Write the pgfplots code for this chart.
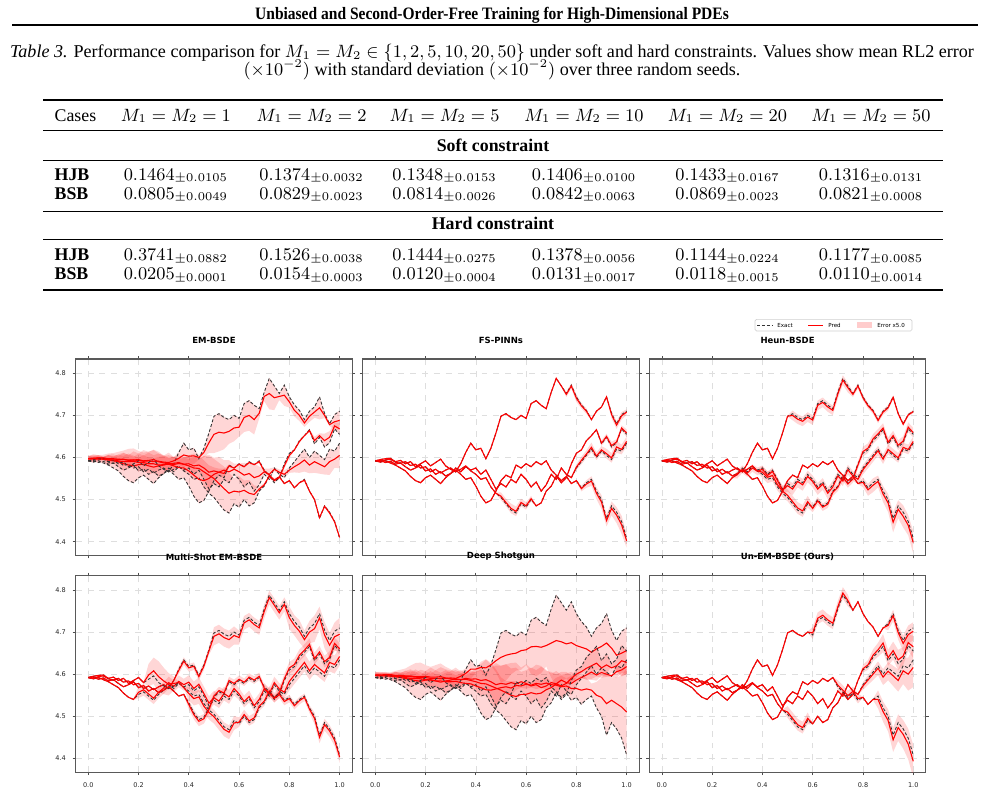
\documentclass[border=0pt]{standalone}
\usepackage{fontspec}
\setmainfont{Liberation Serif}
\newfontfamily\plotfont{DejaVu Sans}
\usepackage{graphicx}
\usepackage{pgfplots}
\pgfplotsset{compat=1.18}
\usepackage{pgfplotstable}
\usepgfplotslibrary{fillbetween}
\newlength{\px}\setlength{\px}{0.505pt}

\pgfplotstableread{
t eA eB eC eD mA mB mC mD sA sB sC sD fA fB fC fD hA hB hC hD uA uB uC uD nA nB nC nD
0 4.592 4.592 4.592 4.592 4.597 4.597 4.597 4.597 4.598 4.597 4.598 4.597 0 0 0 0 0 0 0 0 0 0 0 0 0 0 0 0
0.02 4.590 4.589 4.595 4.593 4.598 4.597 4.598 4.597 4.597 4.596 4.598 4.597 0 0 0 0 0 0 0 0 0 0 0 0 0 0 0 0
0.04 4.594 4.592 4.597 4.588 4.599 4.598 4.599 4.596 4.598 4.597 4.599 4.596 0 0 0 0 0 0 0 0 0 0 0 0 0 0 0 0
0.06 4.596 4.587 4.598 4.591 4.598 4.596 4.599 4.596 4.598 4.595 4.599 4.596 0 0 0 0 0 0 0 0 0 0 0 0 0 0 0 0
0.08 4.589 4.582 4.590 4.584 4.597 4.595 4.597 4.594 4.596 4.594 4.597 4.594 0 0 0 0 0 0 0 0 0 0 0 0 0 0 0 0
0.10 4.586 4.575 4.593 4.587 4.596 4.592 4.597 4.594 4.595 4.592 4.597 4.594 0 0 0 0 0 0 0 0 0 0 0 0 0 0 0 0
0.12 4.590 4.568 4.585 4.578 4.596 4.590 4.595 4.592 4.595 4.590 4.596 4.592 0 0 0 0 0 0 0 0 0 0 0 0 0 0 0 0
0.14 4.581 4.555 4.590 4.570 4.595 4.585 4.596 4.590 4.594 4.587 4.596 4.590 0 0 0 0 0 0 0 0 0 0 0 0 0 0 0 0
0.16 4.584 4.545 4.578 4.575 4.594 4.582 4.593 4.590 4.593 4.585 4.594 4.590 0 0 0 0 0 0 0 0 0 0 0 0 0 0 0 0
0.18 4.575 4.540 4.585 4.582 4.594 4.580 4.594 4.591 4.592 4.583 4.594 4.589 0 0 0 0 0 0 0 0 0 0 0 0 0 0 0 0
0.20 4.578 4.552 4.592 4.568 4.593 4.583 4.595 4.588 4.592 4.586 4.595 4.587 0 0 0 0 0 0 0 0 0 5 0 0 0 0 0 0
0.22 4.566 4.558 4.580 4.573 4.591 4.584 4.592 4.588 4.590 4.587 4.593 4.586 0 0 0 0 0 0 0 0 0 5 0 0 0 0 0 0
0.24 4.572 4.548 4.588 4.560 4.592 4.580 4.593 4.585 4.590 4.584 4.593 4.584 0 0 0 0 0 0 0 0 0 5 10 0 0 0 0 0
0.26 4.563 4.538 4.596 4.566 4.590 4.577 4.595 4.585 4.589 4.581 4.594 4.584 0 0 0 0 0 0 0 0 0 5 12 0 0 0 0 0
0.28 4.570 4.552 4.580 4.556 4.591 4.580 4.590 4.582 4.590 4.584 4.591 4.582 0 0 0 0 0 0 0 0 0 5 14 0 0 0 0 0
0.30 4.575 4.562 4.572 4.562 4.589 4.582 4.587 4.583 4.591 4.586 4.589 4.582 0 0 0 0 0 -3 0 0 0 5 12 0 0 0 0 0
0.32 4.566 4.575 4.566 4.570 4.588 4.586 4.585 4.584 4.590 4.589 4.587 4.583 0 0 0 0 0 -3 0 0 0 5 10 0 0 0 0 0
0.34 4.585 4.566 4.572 4.560 4.592 4.583 4.586 4.580 4.595 4.587 4.587 4.580 0 0 0 0 0 -3 0 0 0 5 6 0 0 0 0 0
0.36 4.612 4.578 4.580 4.548 4.598 4.586 4.588 4.576 4.602 4.590 4.588 4.578 0 0 0 0 0 -3 0 0 -3 5 0 0 0 0 0 0
0.38 4.634 4.570 4.568 4.552 4.606 4.584 4.584 4.575 4.612 4.588 4.585 4.577 0 0 0 0 0 -3 0 0 -3 5 0 0 0 0 0 0
0.40 4.618 4.575 4.560 4.532 4.603 4.585 4.580 4.568 4.612 4.589 4.582 4.572 0 0 0 0 0 -3 5 0 -3 6 -6 -4 0 0 0 0
0.42 4.622 4.560 4.548 4.508 4.604 4.580 4.575 4.558 4.616 4.585 4.578 4.568 0 0 0 0 0 -3 5 0 -3 6 -6 -4 0 0 0 0
0.44 4.597 4.570 4.552 4.492 4.600 4.582 4.574 4.548 4.615 4.587 4.577 4.563 0 0 0 0 0 -3 5 0 -3 6 -6 -4 0 0 0 0
0.46 4.622 4.548 4.530 4.498 4.612 4.575 4.566 4.545 4.622 4.582 4.572 4.562 0 0 0 0 0 -3 5 0 -3 6 -6 -4 0 0 0 0
0.48 4.658 4.525 4.515 4.520 4.635 4.565 4.558 4.550 4.632 4.575 4.567 4.565 0 0 0 0 0 -3 5 0 -3 6 -6 -4 0 0 0 0
0.50 4.698 4.538 4.505 4.545 4.655 4.568 4.550 4.560 4.640 4.578 4.562 4.568 0 0 3 0 0 -5 5 0 -8 6 -6 3 0 0 5 0
0.52 4.704 4.530 4.490 4.558 4.660 4.565 4.538 4.565 4.645 4.576 4.556 4.570 0 0 3 0 -4 -5 5 0 -8 6 -6 3 0 0 5 0
0.54 4.695 4.548 4.475 4.552 4.658 4.570 4.526 4.562 4.648 4.580 4.550 4.567 0 0 4 0 -4 -5 5 0 -8 6 -6 3 0 0 5 0
0.56 4.690 4.540 4.468 4.582 4.662 4.566 4.515 4.580 4.650 4.577 4.547 4.573 0 0 4 0 -4 -5 5 0 -8 6 -6 3 0 0 5 0
0.58 4.700 4.560 4.490 4.575 4.670 4.572 4.520 4.575 4.656 4.582 4.552 4.572 0 0 3 0 -4 -5 5 0 -8 6 -6 3 0 0 5 0
0.60 4.693 4.548 4.482 4.585 4.672 4.566 4.518 4.584 4.658 4.578 4.552 4.576 0 0 3 0 -4 -5 -3 0 -6 5 4 3 5 0 0 0
0.62 4.728 4.530 4.500 4.578 4.695 4.558 4.522 4.578 4.665 4.572 4.556 4.574 0 0 2 0 -4 -5 -3 0 -6 5 4 3 5 0 0 0
0.64 4.735 4.542 4.485 4.590 4.700 4.562 4.515 4.588 4.666 4.575 4.553 4.578 0 0 0 0 -4 -5 -3 0 -6 5 4 3 5 0 0 0
0.66 4.724 4.520 4.492 4.583 4.690 4.552 4.512 4.583 4.664 4.568 4.555 4.576 0 0 0 0 -4 -5 -3 0 -6 5 4 3 5 0 0 0
0.68 4.716 4.535 4.520 4.592 4.705 4.556 4.525 4.590 4.668 4.572 4.563 4.579 0 0 0 0 -4 -5 -3 0 -6 5 4 3 5 0 0 0
0.70 4.755 4.560 4.532 4.570 4.745 4.566 4.535 4.568 4.674 4.580 4.568 4.575 0 0 0 0 -4 -4 -3 0 -6 5 4 -3 5 0 0 4
0.72 4.788 4.548 4.556 4.558 4.752 4.560 4.556 4.558 4.680 4.577 4.577 4.574 0 0 0 0 -4 -4 -3 0 -6 5 4 -3 5 0 0 4
0.74 4.770 4.575 4.540 4.545 4.742 4.572 4.545 4.546 4.677 4.586 4.572 4.570 0 0 0 0 -4 -4 -3 0 -6 5 4 -3 5 0 0 4
0.76 4.752 4.560 4.552 4.555 4.745 4.565 4.552 4.554 4.672 4.580 4.578 4.572 -2 0 0 0 -2 -4 -3 0 -6 5 4 -3 0 0 0 4
0.78 4.772 4.552 4.585 4.538 4.748 4.560 4.580 4.538 4.675 4.578 4.590 4.566 -2 0 0 0 -2 -4 -3 0 -6 5 4 -3 0 0 0 4
0.80 4.744 4.575 4.610 4.545 4.732 4.570 4.605 4.545 4.668 4.586 4.600 4.566 -3 2 0 0 -2 -4 4 -4 -10 8 5 -3 0 -3 3 0
0.82 4.725 4.590 4.618 4.528 4.712 4.578 4.618 4.528 4.664 4.592 4.606 4.562 -2 3 0 -2 -2 -4 4 -5 -9 8 5 -3 0 -4 4 0
0.84 4.712 4.605 4.640 4.540 4.700 4.585 4.638 4.540 4.660 4.598 4.614 4.565 -2 3 0 -3 -2 -4 4 -6 -10 8 5 -3 0 -5 5 0
0.86 4.690 4.620 4.652 4.548 4.682 4.594 4.652 4.546 4.652 4.605 4.620 4.562 0 4 0 -4 -2 -4 4 -5 -8 8 5 -3 0 -6 6 -8
0.88 4.710 4.600 4.666 4.520 4.698 4.582 4.664 4.520 4.660 4.598 4.626 4.550 0 3 0 -5 -2 -4 4 -7 -10 8 5 -3 0 -7 8 -9
0.90 4.720 4.615 4.632 4.500 4.708 4.590 4.640 4.500 4.666 4.604 4.615 4.545 0 3 2 -6 -2 4 4 -8 -12 8 5 -5 -4 -8 7 -10
0.92 4.744 4.605 4.648 4.455 4.718 4.584 4.652 4.457 4.674 4.600 4.622 4.530 0 4 2 -5 -1 4 4 -9 -10 8 5 -5 -5 -9 8 -11
0.94 4.705 4.595 4.625 4.485 4.700 4.578 4.640 4.484 4.662 4.596 4.615 4.538 -3 4 3 -6 -1 4 4 -8 -12 8 5 -5 -6 -10 9 -12
0.96 4.680 4.620 4.635 4.470 4.678 4.590 4.648 4.468 4.645 4.606 4.620 4.530 -3 5 2 -7 -1 4 4 -10 -11 8 5 -5 -7 -12 8 -13
0.98 4.702 4.615 4.668 4.448 4.685 4.596 4.675 4.447 4.650 4.610 4.632 4.522 -3 4 2 -8 -1 4 4 -9 -13 8 5 -5 -8 -15 7 -14
1.00 4.710 4.634 4.655 4.408 4.688 4.605 4.668 4.410 4.656 4.618 4.628 4.510 -2 4 3 -6 -1 4 4 -10 -15 8 5 -5 -8 -18 10 -15
}\paths

\tikzset{
  exactln/.style={draw=black!80, line width=0.45pt, dash pattern=on 1.5pt off 1pt},
  predln/.style={draw=red, color=red, line width=0.55pt},
}
\pgfplotsset{
  panel/.style={
    width=276.5\px, height=196.5\px, scale only axis,
    xmin=-0.05, xmax=1.05, ymin=4.367, ymax=4.834,
    xtick={0,0.2,0.4,0.6,0.8,1.0}, ytick={4.4,4.5,4.6,4.7,4.8},
    tick align=outside, major tick length=1.5pt,
    tick style={draw=black!70, line width=0.35pt},
    axis line style={draw=black!65, line width=0.55pt},
    grid=major, grid style={dashed, draw=black!13, line width=0.3pt},
    tick label style={font=\plotfont\fontsize{3.3}{3.9}\selectfont, text=black!85},
    xticklabel style={/pgf/number format/fixed, /pgf/number format/fixed zerofill, /pgf/number format/precision=1},
    yticklabel style={/pgf/number format/fixed, /pgf/number format/fixed zerofill, /pgf/number format/precision=1},
    /pgf/number format/assume math mode=true,
    title style={font=\plotfont\bfseries\fontsize{4.3}{5}\selectfont, at={(0.5,1)}, anchor=south, inner sep=0pt, yshift=1.5pt},
  },
}

% #1 id, #2 exact, #3 prediction, #4 band factor on |pred - exact|
\newcommand{\trio}[4]{%
  \addplot[name path=U#1, draw=none, forget plot] table[x=t, y expr={#3+#4*abs(#3-(#2))+0.0015}] {\paths};
  \addplot[name path=L#1, draw=none, forget plot] table[x=t, y expr={#3-#4*abs(#3-(#2))-0.0015}] {\paths};
  \addplot[fill=red, fill opacity=0.16, draw=none, forget plot] fill between[of=U#1 and L#1];
  \addplot[exactln, forget plot] table[x=t, y expr={#2}] {\paths};
  \addplot[predln, forget plot] table[x=t, y expr={#3}] {\paths};
}
\newcommand{\bad}[2]{\trio{#1}{\thisrow{e#1}}{\thisrow{#2#1}}{1}}
\newcommand{\good}[2]{\trio{#1}{\thisrow{e#1}}{(\thisrow{e#1}+0.001*\thisrow{#2#1})}{2.5}}

\newcommand{\tabfont}{\fontsize{9}{11}\selectfont}
\newcommand{\capfont}{\fontsize{9.13}{11}\selectfont}
\newcommand{\cell}[4]{\node[anchor=base, font=\tabfont, inner sep=0pt] at (#1\px,-#2\px) {$#3_{\pm#4}$};}

\begin{document}
\begin{tikzpicture}
\path (0,0) rectangle (985\px,-804\px);

% running header
\node[anchor=base, font=\fontsize{8.8}{11}\selectfont\bfseries, inner sep=0pt] at (492\px,-19.5\px) {\scalebox{0.89}[1]{Unbiased and Second-Order-Free Training for High-Dimensional PDEs}};
\draw[line width=1pt] (12\px,-25.3\px) -- (978\px,-25.3\px);

% caption
\node[anchor=base, font=\capfont, inner sep=0pt] at (492\px,-57.5\px) {\textit{Table 3.} Performance comparison for $M_1 = M_2 \in \{1, 2, 5, 10, 20, 50\}$ under soft and hard constraints. Values show mean RL2 error};
\node[anchor=base, font=\capfont, inner sep=0pt] at (492\px,-75.5\px) {$(\times 10^{-2})$ with standard deviation $(\times 10^{-2})$ over three random seeds.};

% table rules
\draw[line width=0.9pt] (43\px,-100\px) -- (943\px,-100\px);
\draw[line width=0.5pt] (43\px,-130\px) -- (943\px,-130\px);
\draw[line width=0.5pt] (43\px,-160\px) -- (943\px,-160\px);
\draw[line width=0.5pt] (43\px,-211\px) -- (943\px,-211\px);
\draw[line width=0.5pt] (43\px,-239.3\px) -- (943\px,-239.3\px);
\draw[line width=0.9pt] (43\px,-290\px) -- (943\px,-290\px);

% table header
\node[anchor=base west, font=\tabfont, inner sep=0pt] at (54.3\px,-121\px) {Cases};
\node[anchor=base, font=\tabfont, inner sep=0pt] at (175.9\px,-121\px) {$M_1 = M_2 = 1$};
\node[anchor=base, font=\tabfont, inner sep=0pt] at (311.5\px,-121\px) {$M_1 = M_2 = 2$};
\node[anchor=base, font=\tabfont, inner sep=0pt] at (444.5\px,-121\px) {$M_1 = M_2 = 5$};
\node[anchor=base, font=\tabfont, inner sep=0pt] at (584\px,-121\px) {$M_1 = M_2 = 10$};
\node[anchor=base, font=\tabfont, inner sep=0pt] at (727.5\px,-121\px) {$M_1 = M_2 = 20$};
\node[anchor=base, font=\tabfont, inner sep=0pt] at (871\px,-121\px) {$M_1 = M_2 = 50$};
\node[anchor=base, font=\tabfont\bfseries, inner sep=0pt] at (493\px,-151.5\px) {Soft constraint};
\node[anchor=base, font=\tabfont\bfseries, inner sep=0pt] at (493\px,-229\px) {Hard constraint};
\node[anchor=base west, font=\tabfont\bfseries, inner sep=0pt] at (54.3\px,-180\px) {HJB};
\node[anchor=base west, font=\tabfont\bfseries, inner sep=0pt] at (54.3\px,-199\px) {BSB};
\node[anchor=base west, font=\tabfont\bfseries, inner sep=0pt] at (54.3\px,-260.5\px) {HJB};
\node[anchor=base west, font=\tabfont\bfseries, inner sep=0pt] at (54.3\px,-279.5\px) {BSB};

\cell{175.9}{180}{0.1464}{0.0105}
\cell{311.5}{180}{0.1374}{0.0032}
\cell{444.5}{180}{0.1348}{0.0153}
\cell{584}{180}{0.1406}{0.0100}
\cell{727.5}{180}{0.1433}{0.0167}
\cell{871}{180}{0.1316}{0.0131}
\cell{175.9}{199}{0.0805}{0.0049}
\cell{311.5}{199}{0.0829}{0.0023}
\cell{444.5}{199}{0.0814}{0.0026}
\cell{584}{199}{0.0842}{0.0063}
\cell{727.5}{199}{0.0869}{0.0023}
\cell{871}{199}{0.0821}{0.0008}
\cell{175.9}{260.5}{0.3741}{0.0882}
\cell{311.5}{260.5}{0.1526}{0.0038}
\cell{444.5}{260.5}{0.1444}{0.0275}
\cell{584}{260.5}{0.1378}{0.0056}
\cell{727.5}{260.5}{0.1144}{0.0224}
\cell{871}{260.5}{0.1177}{0.0085}
\cell{175.9}{279.5}{0.0205}{0.0001}
\cell{311.5}{279.5}{0.0154}{0.0003}
\cell{444.5}{279.5}{0.0120}{0.0004}
\cell{584}{279.5}{0.0131}{0.0017}
\cell{727.5}{279.5}{0.0118}{0.0015}
\cell{871}{279.5}{0.0110}{0.0014}

% legend
\draw[rounded corners=0.8pt, draw=black!18, line width=0.3pt, fill=white] (755\px,-319.3\px) rectangle (912\px,-331\px);
\draw[exactln] (757\px,-325.2\px) -- (772\px,-325.2\px);
\node[anchor=west, font=\plotfont\fontsize{2.8}{3.4}\selectfont, inner sep=0pt] at (777\px,-325.2\px) {Exact};
\draw[red, line width=0.6pt] (808\px,-325.2\px) -- (823\px,-325.2\px);
\node[anchor=west, font=\plotfont\fontsize{2.8}{3.4}\selectfont, inner sep=0pt] at (828\px,-325.2\px) {Pred};
\fill[red, fill opacity=0.2] (857\px,-322.4\px) rectangle (872\px,-328\px);
\node[anchor=west, font=\plotfont\fontsize{2.8}{3.4}\selectfont, inner sep=0pt] at (877\px,-325.2\px) {Error x5.0};

% panels
\begin{axis}[panel, at={(75.7\px,-359\px)}, anchor=north west, title={EM-BSDE}, xticklabels={}]
\bad{A}{m}\bad{B}{m}\bad{C}{m}\bad{D}{m}
\end{axis}
\begin{axis}[panel, at={(362.7\px,-359\px)}, anchor=north west, title={FS-PINNs}, xticklabels={}, yticklabels={}]
\good{A}{f}\good{B}{f}\good{C}{f}\good{D}{f}
\end{axis}
\begin{axis}[panel, at={(649.3\px,-359\px)}, anchor=north west, title={Heun-BSDE}, xticklabels={}, yticklabels={}]
\good{A}{h}\good{B}{h}\good{C}{h}\good{D}{h}
\end{axis}
\begin{axis}[panel, at={(75.7\px,-575.7\px)}, anchor=north west, title={Multi-Shot EM-BSDE}]
\good{A}{u}\good{B}{u}\good{C}{u}\good{D}{u}
\end{axis}
\begin{axis}[panel, at={(362.7\px,-575.7\px)}, anchor=north west, title={Deep Shotgun}, yticklabels={}]
\bad{A}{s}\bad{B}{s}\bad{C}{s}\bad{D}{s}
\end{axis}
\begin{axis}[panel, at={(649.3\px,-575.7\px)}, anchor=north west, title={Un-EM-BSDE (Ours)}, yticklabels={}]
\good{A}{n}\good{B}{n}\good{C}{n}\good{D}{n}
\end{axis}
\end{tikzpicture}
\end{document}
